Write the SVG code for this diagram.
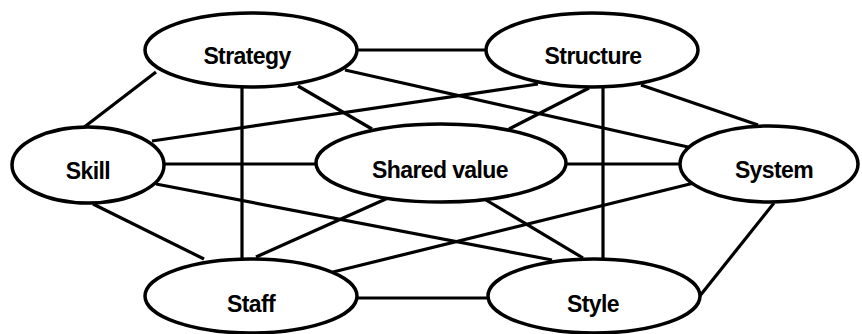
<svg xmlns="http://www.w3.org/2000/svg" width="862" height="334" viewBox="0 0 862 334">
<style>
.e{fill:#fff;stroke:#000;stroke-width:3.5}
.t{font-family:"Liberation Sans",Arial,sans-serif;font-weight:bold;font-size:23px;letter-spacing:-0.6px;text-anchor:middle;fill:#000}
.c line{stroke:#000;stroke-width:3.2;stroke-linecap:butt}
</style>
<rect width="862" height="334" fill="#fff"/>
<g id="connectors" class="c">
<line x1="357" y1="50" x2="486" y2="50"/>
<line x1="156" y1="72" x2="83" y2="128"/>
<line x1="242" y1="87" x2="242" y2="259"/>
<line x1="298" y1="86" x2="372" y2="129"/>
<line x1="345" y1="70" x2="688" y2="147"/>
<line x1="152" y1="141" x2="538" y2="84"/>
<line x1="589" y1="88" x2="509" y2="129"/>
<line x1="603" y1="87" x2="603" y2="259"/>
<line x1="641" y1="85" x2="758" y2="125"/>
<line x1="164" y1="164" x2="317" y2="164"/>
<line x1="566" y1="164" x2="680" y2="164"/>
<line x1="156" y1="184" x2="552" y2="260"/>
<line x1="93" y1="204" x2="204" y2="259"/>
<line x1="388" y1="198" x2="256" y2="257"/>
<line x1="486" y1="200" x2="583" y2="258"/>
<line x1="698" y1="182" x2="333" y2="272"/>
<line x1="774" y1="203" x2="699" y2="297"/>
<line x1="357" y1="298" x2="488" y2="298"/>
</g>
<g id="strategy"><ellipse class="e" cx="251" cy="50" rx="106" ry="37"/><text class="t" x="247" y="64">Strategy</text></g>
<g id="structure"><ellipse class="e" cx="592" cy="50" rx="106" ry="37"/><text class="t" x="593" y="64">Structure</text></g>
<g id="skill"><ellipse class="e" cx="88" cy="165" rx="76" ry="38"/><text class="t" x="88" y="179">Skill</text></g>
<g id="shared-value"><ellipse class="e" cx="441" cy="163" rx="125" ry="39"/><text class="t" x="440" y="178">Shared value</text></g>
<g id="system"><ellipse class="e" cx="769" cy="164" rx="89" ry="38"/><text class="t" x="774" y="178">System</text></g>
<g id="staff"><ellipse class="e" cx="251" cy="296" rx="106" ry="37"/><text class="t" x="251" y="312">Staff</text></g>
<g id="style"><ellipse class="e" cx="594" cy="296" rx="106" ry="37"/><text class="t" x="593" y="312">Style</text></g>
</svg>
